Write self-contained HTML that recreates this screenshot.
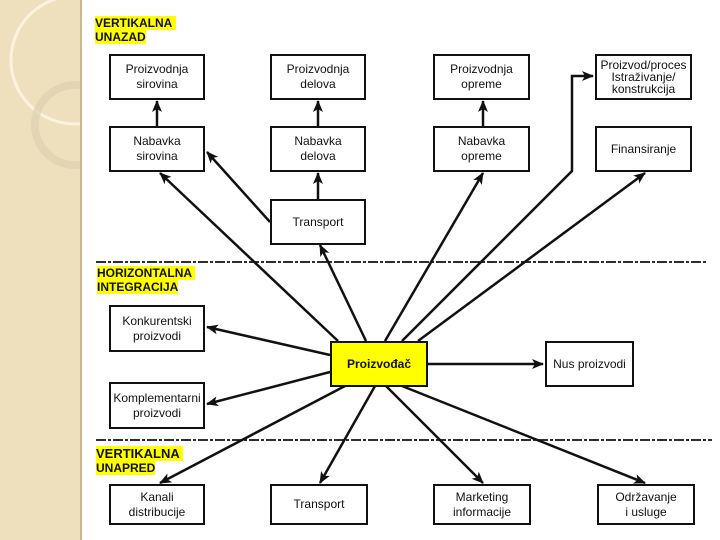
<!DOCTYPE html>
<html><head><meta charset="utf-8"><style>
body{margin:0;width:720px;height:540px;overflow:hidden;background:#fff;font-family:"Liberation Sans",sans-serif}
.b{position:absolute;border:2.5px solid #111;box-sizing:border-box;background:#fff;display:flex;align-items:center;justify-content:center;text-align:center;font-size:12px;line-height:15px;color:#111}
.lab{position:absolute;font-size:12px;font-weight:bold;line-height:14px;color:#111}
.lab span{background:#ff0}
</style></head><body>
<div style="position:absolute;left:0;top:0;width:80px;height:540px;background:#efe0bd;border-right:2px solid #cbb98e"></div>
<svg style="position:absolute;left:0;top:0" width="80" height="540"><circle cx="75" cy="60" r="64" fill="none" stroke="#fbf3e0" stroke-width="3"/><circle cx="75" cy="125" r="40" fill="none" stroke="#ddd0b0" stroke-width="8" opacity=".7"/></svg>
<div class="lab" style="left:95px;top:16px"><span>VERTIKALNA&nbsp;</span><br><span>UNAZAD</span></div>
<div class="lab" style="left:97px;top:266px"><span>HORIZONTALNA&nbsp;</span><br><span>INTEGRACIJA</span></div>
<div class="lab" style="left:96px;top:447px"><span style="font-size:13px">VERTIKALNA&nbsp;</span><br><span>UNAPRED</span></div>
<svg style="position:absolute;left:0;top:0" width="720" height="540">
<defs><marker id="a" markerWidth="8" markerHeight="8" refX="7" refY="4" orient="auto" markerUnits="userSpaceOnUse"><path d="M0,0L8,4L0,8L2,4z" fill="#111"/></marker>
<marker id="m" markerWidth="12" markerHeight="10" refX="11" refY="5" orient="auto" markerUnits="userSpaceOnUse"><path d="M0,0L12,5L0,10L3,5z" fill="#111"/></marker></defs>
<g stroke="#111" stroke-width="1.8" stroke-dasharray="10,2,3,2" fill="none"><line x1="96" y1="262" x2="707" y2="262"/><line x1="96" y1="440" x2="712" y2="440"/></g>
<g stroke="#111" stroke-width="2.5" fill="none" marker-end="url(#m)">
<line x1="157" y1="126" x2="157" y2="101"/><line x1="318" y1="126" x2="318" y2="101"/><line x1="483" y1="126" x2="483" y2="101"/>
<line x1="318" y1="200" x2="318" y2="173"/>
<line x1="270" y1="222" x2="207" y2="152"/>
<line x1="338" y1="341" x2="160" y2="173"/>
<line x1="366" y1="341" x2="320" y2="245"/>
<line x1="385" y1="341" x2="483" y2="173"/>
<polyline points="402,341 572,171 572,76 593,76"/>
<line x1="418" y1="341" x2="645" y2="173"/>
<line x1="330" y1="355" x2="207" y2="327"/>
<line x1="330" y1="372" x2="207" y2="404"/>
<line x1="427" y1="364" x2="543" y2="364"/>
<line x1="345" y1="386" x2="160" y2="483"/>
<line x1="375" y1="386" x2="320" y2="483"/>
<line x1="386" y1="386" x2="483" y2="483"/>
<line x1="402" y1="386" x2="645" y2="483"/>
</g></svg>
<div class="b" style="left:109px;top:54px;width:96px;height:46px">Proizvodnja<br>sirovina</div>
<div class="b" style="left:270px;top:54px;width:96px;height:46px">Proizvodnja<br>delova</div>
<div class="b" style="left:433px;top:54px;width:97px;height:46px">Proizvodnja<br>opreme</div>
<div class="b" style="left:595px;top:54px;width:97px;height:46px;line-height:12px">Proizvod/proces<br>Istraživanje/<br>konstrukcija</div>
<div class="b" style="left:109px;top:126px;width:96px;height:46px">Nabavka<br>sirovina</div>
<div class="b" style="left:270px;top:126px;width:96px;height:46px">Nabavka<br>delova</div>
<div class="b" style="left:433px;top:126px;width:97px;height:46px">Nabavka<br>opreme</div>
<div class="b" style="left:595px;top:126px;width:97px;height:46px">Finansiranje</div>
<div class="b" style="left:270px;top:199px;width:96px;height:46px">Transport</div>
<div class="b" style="left:109px;top:305px;width:96px;height:47px">Konkurentski<br>proizvodi</div>
<div class="b" style="left:109px;top:382px;width:96px;height:47px">Komplementarni<br>proizvodi</div>
<div class="b" style="left:330px;top:341px;width:98px;height:46px;background:#ff0;font-weight:bold">Proizvođač</div>
<div class="b" style="left:545px;top:341px;width:89px;height:46px">Nus proizvodi</div>
<div class="b" style="left:109px;top:484px;width:96px;height:41px">Kanali<br>distribucije</div>
<div class="b" style="left:270px;top:484px;width:98px;height:41px">Transport</div>
<div class="b" style="left:433px;top:484px;width:98px;height:41px">Marketing<br>informacije</div>
<div class="b" style="left:597px;top:484px;width:98px;height:41px">Održavanje<br>i usluge</div>
</body></html>
